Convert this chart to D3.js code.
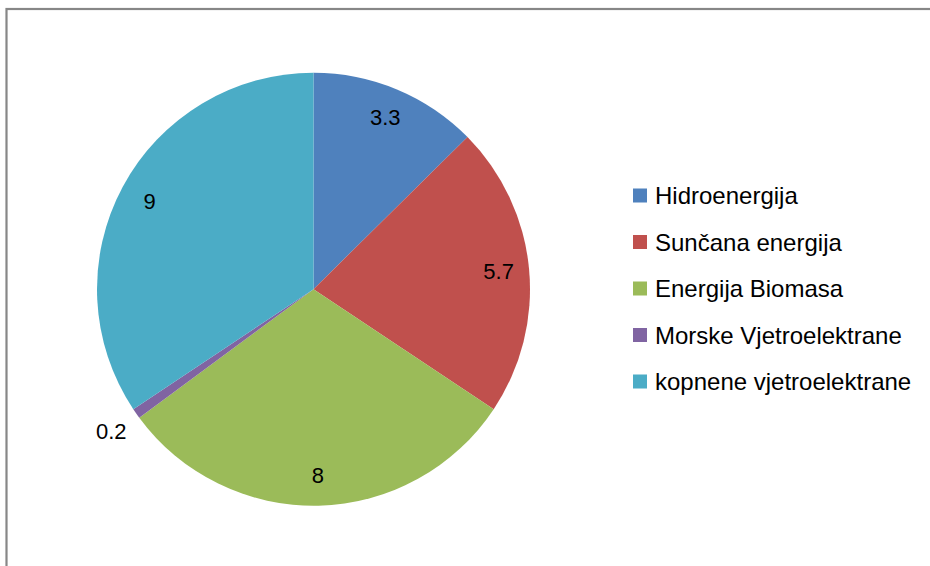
<!DOCTYPE html>
<html>
<head>
<meta charset="utf-8">
<script src="https://cdn.jsdelivr.net/npm/d3@7"></script>
<style>
  html, body { margin: 0; padding: 0; background: #fff; }
  svg { display: block; }
  text { font-family: "Liberation Sans", Arial, sans-serif; fill: #000; }
</style>
</head>
<body>
<svg id="chart" width="930" height="566"></svg>
<script>
const categories = ["Hidroenergija", "Sunčana energija", "Energija Biomasa", "Morske Vjetroelektrane", "kopnene vjetroelektrane"];
const values = [3.3, 5.7, 8, 0.2, 9];
const colors = ["#4F81BD", "#C0504D", "#9BBB59", "#8064A2", "#4BACC6"];
const labels = ["3.3", "5.7", "8", "0.2", "9"];

const data = categories.map((c, i) => ({ name: c, value: values[i], label: labels[i] }));

const svg = d3.select("#chart");

// chart area border
svg.append("rect")
  .attr("x", 6.5).attr("y", 9)
  .attr("width", 1200).attr("height", 1200)
  .attr("fill", "none")
  .attr("stroke", "#878787")
  .attr("stroke-width", 2.2);

const cx = 313.5, cy = 289.2, r = 216.5;

const pie = d3.pie().sort(null).value(d => d.value);
const arcs = pie(data);
const arc = d3.arc().innerRadius(0).outerRadius(r);

const g = svg.append("g").attr("transform", `translate(${cx},${cy})`);

g.selectAll("path.slice")
  .data(arcs)
  .join("path")
  .attr("class", "slice")
  .attr("d", arc)
  .attr("fill", (d, i) => colors[i]);

const labelArcIn = d3.arc().innerRadius(186).outerRadius(186);
const labelArcOut = d3.arc().innerRadius(247).outerRadius(247);

g.selectAll("text.lbl")
  .data(arcs)
  .join("text")
  .attr("class", "lbl")
  .attr("transform", d => {
    const small = (d.endAngle - d.startAngle) < 0.2;
    const p = (small ? labelArcOut : labelArcIn).centroid(d);
    return `translate(${p[0]},${p[1]})`;
  })
  .attr("text-anchor", "middle")
  .attr("dominant-baseline", "central")
  .attr("font-size", 22)
  .text(d => d.data.label);

// legend
const legend = svg.append("g");
const ly0 = 195.5, lstep = 46.5;
const items = legend.selectAll("g.item")
  .data(data)
  .join("g")
  .attr("class", "item")
  .attr("transform", (d, i) => `translate(633,${ly0 + i * lstep})`);

items.append("rect")
  .attr("x", 0).attr("y", -7)
  .attr("width", 14).attr("height", 14)
  .attr("fill", (d, i) => colors[i]);

items.append("text")
  .attr("x", 22).attr("y", 0)
  .attr("dominant-baseline", "central")
  .attr("font-size", 24)
  .text(d => d.name);
</script>
</body>
</html>
